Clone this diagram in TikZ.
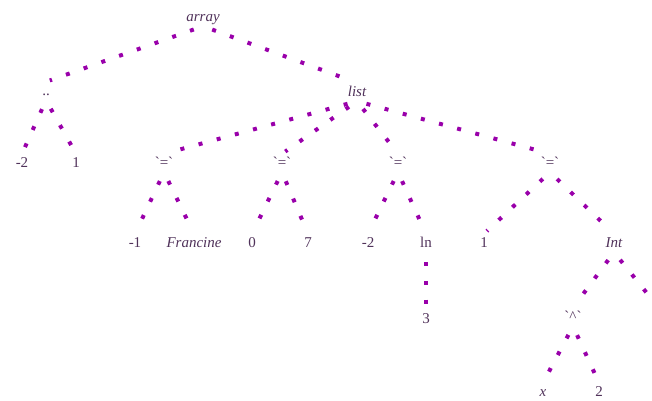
\documentclass[tikz,border=0pt]{standalone}
\usepackage{fontspec}
\setmainfont{Liberation Serif}
\newfontfamily\rawfont{Liberation Serif}[Ligatures=ResetAll]
\definecolor{edgecol}{RGB}{153,0,170}
\definecolor{labelcol}{RGB}{80,50,90}
\newcommand{\bq}{{\rawfont\symbol{"60}}}
\begin{document}
\begin{tikzpicture}[x=1pt,y=-1pt,
  lbl/.style={anchor=base,inner xsep=2pt,inner ysep=2pt,text height=11pt,text depth=3pt,
    font=\fontsize{15}{17}\selectfont,text=labelcol},
  ilbl/.style={lbl,font=\fontsize{15}{17}\selectfont\itshape},
  edge/.style={draw=edgecol,line width=4pt,line cap=butt,
    dash pattern=on 4pt off 14.8pt,dash phase=9pt,shorten >=4pt}]
\useasboundingbox (0,0) rectangle (652,400);

% labels
\node[ilbl] (array) at (203,21) {array};
\node[lbl]  (dd)    at (46,95)  {..};
\node[lbl]  (m2a)   at (22,167) {-2};
\node[lbl]  (one)   at (76,167) {1};
\node[ilbl] (list)  at (357,96) {list};
\node[lbl]  (eq1)   at (164,167) {\bq=\bq};
\node[lbl]  (eq2)   at (282,167) {\bq=\bq};
\node[lbl]  (eq3)   at (398,167) {\bq=\bq};
\node[lbl]  (eq4)   at (550,167) {\bq=\bq};
\node[lbl]  (m1)    at (135,247) {-1};
\node[ilbl] (fran)  at (194,247) {Francine};
\node[lbl]  (zero)  at (252,247) {0};
\node[lbl]  (seven) at (308,247) {7};
\node[lbl]  (m2b)   at (368,247) {-2};
\node[lbl]  (ln)    at (426,247) {ln};
\node[lbl]  (oneb)  at (484,247) {1};
\node[ilbl] (int)   at (614,247) {Int};
\node[lbl]  (three) at (426,323) {3};
\node[lbl]  (pow)   at (573,321) {\bq{\rawfont\symbol{"5E}}\bq};
\node[ilbl] (xv)    at (543,396) {x};
\node[lbl]  (two)   at (599,396) {2};
\coordinate (intR) at (650,297);

% tree edges
\draw[edge] (array.south) -- (dd.north);
\draw[edge] (array.south) -- (list.north);
\draw[edge] (dd.south) -- (m2a.north);
\draw[edge] (dd.south) -- (one.north);
\foreach \c in {eq1,eq2,eq3,eq4}
  \draw[edge] (list.south) -- (\c.north);
\draw[edge] (eq1.south) -- (m1.north);
\draw[edge] (eq1.south) -- (fran.north);
\draw[edge] (eq2.south) -- (zero.north);
\draw[edge] (eq2.south) -- (seven.north);
\draw[edge] (eq3.south) -- (m2b.north);
\draw[edge] (eq3.south) -- (ln.north);
\draw[edge] (ln.south) -- (three.north);
\draw[edge] (eq4.south) -- (oneb.north);
\draw[edge] (eq4.south) -- (int.north);
\draw[edge] (int.south) -- (pow.north);
\draw[edge] (int.south) -- (intR);
\draw[edge] (pow.south) -- (xv.north);
\draw[edge] (pow.south) -- (two.north);
\end{tikzpicture}
\end{document}
